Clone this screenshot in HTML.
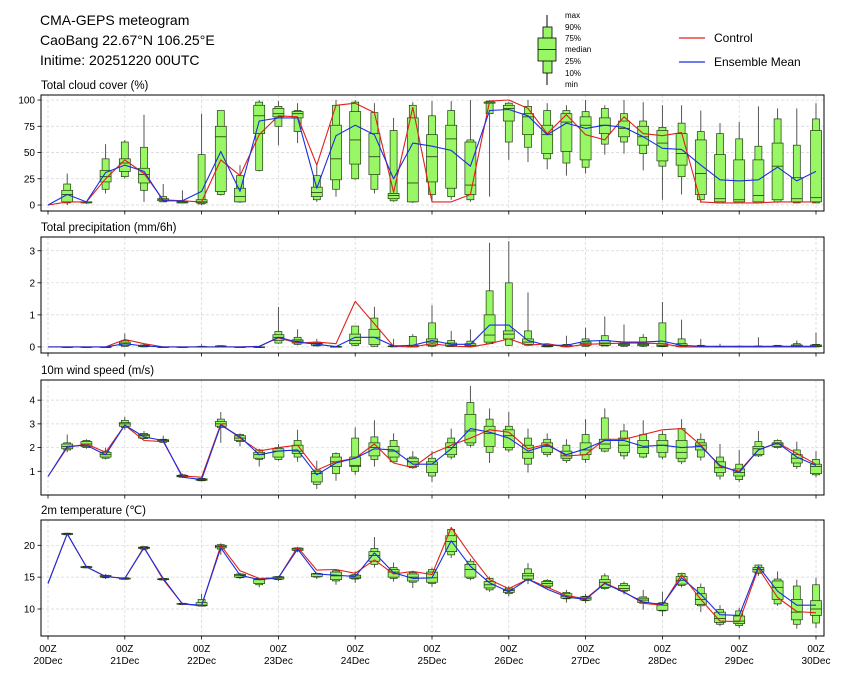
<!DOCTYPE html>
<html><head><meta charset="utf-8">
<style>
html,body{margin:0;padding:0;background:#fff;}
svg{display:block;font-family:"Liberation Sans","DejaVu Sans",sans-serif;}
</style></head>
<body>
<svg id="chart" width="842" height="680" viewBox="0 0 842 680">
  <g font-size="14" fill="#000">
    <text x="40" y="25">CMA-GEPS meteogram</text>
    <text x="40" y="45">CaoBang 22.67°N 106.25°E</text>
    <text x="40" y="65">Initime: 20251220 00UTC</text>
  </g>
  <g>
    <line x1="547" y1="15" x2="547" y2="85" stroke="#000" stroke-width="1"/>
    <rect x="543" y="27" width="9" height="46" fill="#99f766" stroke="#000" stroke-width="0.8"/>
    <rect x="538" y="38" width="18" height="23" fill="#99f766" stroke="#000" stroke-width="0.8"/>
    <line x1="538" y1="49.5" x2="556" y2="49.5" stroke="#000" stroke-width="0.8"/>
    <g font-size="8" fill="#000">
      <text x="565" y="18">max</text><text x="565" y="30">90%</text><text x="565" y="41">75%</text>
      <text x="565" y="52">median</text><text x="565" y="64">25%</text><text x="565" y="76">10%</text><text x="565" y="87">min</text>
    </g>
  </g>
  <g font-size="12">
    <g>
      <line x1="679" y1="38" x2="705" y2="38" stroke="#e0201c" stroke-width="1.2"/>
      <text x="714" y="42">Control</text>
    </g>
    <g>
      <line x1="679" y1="62" x2="705" y2="62" stroke="#1a2fe0" stroke-width="1.2"/>
      <text x="714" y="66">Ensemble Mean</text>
    </g>
  </g>
  <g id="panels"></g>
</svg>
<script>
// ---------- data ----------
const dayLabels = ["20Dec","21Dec","22Dec","23Dec","24Dec","25Dec","26Dec","27Dec","28Dec","29Dec","30Dec"];

const cloudMax=[30,3,58,62,86,20,14,87,90,38,100,99,97,38,100,100,97,83,98,99,99,100,100,98,100,97,95,100,95,100,98,95,95,90,78,79,94,92,92,97];
const cloudP90=[20,3,44,60,55,8,4,48,90,28,98,94,90,28,95,98,88,71,95,85,90,62,99,97,94,90,90,89,92,87,80,74,78,70,68,63,56,82,57,82];
const cloudQ75=[14,3,33,44,35,6,3,5,75,16,95,92,89,17,76,89,68,11,83,67,76,60,98,95,87,76,87,84,83,80,75,71,68,62,48,43,43,59,26,71];
const cloudMed=[10,3,27,40,29,5,3,3,65,8,85,87,87,12,44,62,46,9,21,46,63,19,98,92,84,67,79,76,76,73,65,59,49,30,6,5,9,37,6,7];
const cloudQ25=[3,2,22,32,21,4,2,2,13,3,68,84,83,8,24,39,29,6,3,22,16,10,97,80,67,49,51,43,68,65,57,42,38,10,3,3,3,5,3,3];
const cloudP10=[2,2,15,27,14,3,2,1,10,3,33,75,70,5,15,25,15,4,3,10,8,5,87,60,55,44,40,36,58,60,49,37,27,5,2,2,2,3,2,2];
const cloudMin=[0,1,11,25,3,3,2,0,9,2,32,57,59,3,8,24,11,3,2,3,5,3,8,43,41,34,28,30,48,49,33,5,10,2,2,2,2,2,2,2];
const cloudCtrl=[0,3,3,25,43,30,5,4,3,43,28,67,85,84,38,95,97,88,12,93,3,3,10,99,100,92,68,86,67,62,84,68,66,69,3,2,2,2,3,3,3];
const cloudMean=[0,10,3,31,38,32,4,4,13,51,13,80,83,83,16,66,76,67,25,59,56,52,37,90,91,85,67,78,73,76,74,65,54,53,38,24,23,24,36,23,32];

const precMax=[0,0,0,0.42,0.1,0,0,0.08,0.05,0,0,1.25,0.55,0.25,0.03,0.65,1.25,0.25,0.4,1.3,0.5,0.55,3.25,3.3,1.7,0.1,0.35,0.6,0.95,0.7,0.4,1.4,0.85,0.25,0.1,0.05,0.3,0.05,0.2,0.45];
const precP90=[0,0,0,0.2,0.06,0,0,0.02,0.04,0,0,0.48,0.3,0.15,0.02,0.65,0.9,0.04,0.33,0.75,0.2,0.18,1.75,2.0,0.5,0.06,0.08,0.25,0.35,0.15,0.3,0.75,0.25,0.05,0.02,0.02,0.03,0.05,0.1,0.08];
const precQ75=[0,0,0,0.15,0.05,0,0,0.01,0.03,0,0,0.38,0.22,0.12,0.01,0.4,0.55,0.03,0.05,0.25,0.12,0.1,1.0,0.5,0.25,0.04,0.05,0.15,0.2,0.1,0.1,0.1,0.1,0.03,0.01,0.01,0.01,0.03,0.06,0.06];
const precMed=[0,0,0,0.1,0.03,0,0,0,0.02,0,0,0.3,0.18,0.1,0.01,0.2,0.3,0.02,0.02,0.15,0.05,0.05,0.37,0.4,0.15,0.02,0.02,0.1,0.12,0.08,0.08,0.05,0.03,0.01,0,0,0,0.01,0.03,0.03];
const precQ25=[0,0,0,0.05,0.01,0,0,0,0.01,0,0,0.2,0.12,0.05,0,0.1,0.08,0.01,0,0.05,0.02,0.02,0.15,0.25,0.08,0.01,0.01,0.05,0.05,0.04,0.04,0.02,0.01,0,0,0,0,0,0.01,0.01];
const precP10=[0,0,0,0.02,0,0,0,0,0,0,0,0.12,0.08,0.03,0,0.05,0.02,0,0,0.02,0.01,0.01,0.1,0.05,0.05,0,0,0.02,0.03,0.02,0.02,0.01,0,0,0,0,0,0,0,0];
const precMin=[0,0,0,0,0,0,0,0,0,0,0,0.1,0.05,0.02,0,0.02,0,0,0,0,0,0,0.1,0.03,0.05,0,0,0,0.03,0,0,0,0,0,0,0,0,0,0,0];
const precCtrl=[0,0,0,0,0.23,0.1,0,0,0,0,0,0.02,0.28,0.12,0.15,0.1,1.42,0.72,0.02,0,0.1,0.03,0,0.1,0.25,0.05,0.1,0,0.08,0.1,0.12,0.12,0.1,0,0,0,0,0,0,0,0];
const precMean=[0,0,0,0,0.1,0.03,0,0,0,0,0,0.01,0.3,0.15,0.08,0.01,0.3,0.3,0.03,0.05,0.2,0.08,0.08,0.68,0.68,0.2,0.05,0.05,0.18,0.2,0.15,0.15,0.18,0.05,0.02,0.02,0.02,0.02,0.02,0.02,0.02];

const windMax=[2.55,2.35,2.0,3.3,2.7,2.5,0.9,0.75,3.5,2.6,1.95,2.15,2.75,1.45,1.8,2.85,3.15,2.6,1.85,1.85,2.8,4.6,3.65,3.5,2.8,2.6,2.35,3.2,3.65,3.0,3.15,2.7,3.2,2.6,2.15,1.9,2.7,2.35,2.25,1.85];
const windP90=[2.2,2.3,1.85,3.15,2.6,2.35,0.85,0.7,3.2,2.55,1.9,2.0,2.3,1.05,1.75,2.4,2.45,2.3,1.6,1.55,2.4,3.9,3.2,2.9,2.4,2.35,2.1,2.55,3.25,2.7,2.55,2.55,2.8,2.35,1.6,1.3,2.25,2.3,1.9,1.5];
const windQ75=[2.15,2.25,1.8,3.05,2.55,2.33,0.83,0.68,3.1,2.5,1.8,1.95,2.1,1.0,1.6,1.6,2.2,2.05,1.55,1.4,2.2,3.4,2.9,2.75,2.1,2.2,1.85,2.2,2.35,2.4,2.3,2.3,2.3,2.2,1.4,1.1,2.05,2.2,1.7,1.3];
const windMed=[2.05,2.15,1.7,3.0,2.5,2.3,0.8,0.65,3.0,2.4,1.7,1.85,1.85,0.9,1.4,1.25,2.0,1.85,1.4,1.3,2.0,2.7,2.6,2.5,1.8,2.05,1.65,1.9,2.15,2.1,2.0,2.1,1.8,2.1,1.15,0.95,1.95,2.15,1.55,1.2];
const windQ25=[1.95,2.05,1.6,2.9,2.4,2.25,0.77,0.62,2.9,2.3,1.55,1.6,1.75,0.55,1.2,1.2,1.65,1.6,1.2,0.95,1.7,2.2,2.05,2.0,1.55,1.8,1.55,1.7,1.95,1.8,1.75,1.8,1.55,1.9,0.95,0.8,1.7,2.05,1.35,0.9];
const windP10=[1.9,2.0,1.55,2.85,2.38,2.22,0.75,0.6,2.85,2.25,1.5,1.5,1.6,0.45,0.9,1.0,1.5,1.4,1.15,0.8,1.6,2.1,1.8,1.9,1.3,1.7,1.45,1.5,1.85,1.65,1.6,1.6,1.4,1.6,0.8,0.65,1.65,2.0,1.2,0.85];
const windMin=[1.8,1.95,1.5,2.75,2.35,2.2,0.72,0.58,2.2,2.05,1.2,1.45,1.4,0.25,0.6,0.85,1.2,1.4,1.1,0.55,1.5,2.0,1.35,1.8,0.95,1.6,1.35,1.35,1.8,1.5,1.55,1.5,1.3,1.45,0.65,0.55,1.6,1.95,1.1,0.75];
const windCtrl=[0.78,2.0,2.15,1.8,2.95,2.3,2.25,0.8,0.75,3.0,2.4,1.85,2.0,2.1,1.05,1.4,1.55,2.15,1.35,1.15,1.75,2.1,2.4,2.75,2.65,1.95,2.15,1.65,1.7,2.35,2.35,2.55,2.75,2.8,2.1,1.2,1.0,1.9,2.2,1.75,1.3];
const windMean=[0.78,2.05,2.1,1.7,2.95,2.45,2.3,0.75,0.65,2.95,2.45,1.7,1.85,1.9,0.85,1.35,1.55,1.95,1.9,1.3,1.3,1.95,2.8,2.65,2.4,1.85,2.1,1.7,1.95,2.3,2.3,2.05,2.1,2.0,2.05,1.25,0.95,1.9,2.2,1.6,1.25];

const tempMax=[22.0,16.8,15.5,15.0,19.9,14.9,11.0,12.4,20.3,15.7,14.9,15.2,19.7,15.7,16.2,15.9,21.3,17.3,16.0,16.5,22.8,17.9,15.1,13.6,17.2,14.7,13.0,12.4,15.6,14.3,13.0,12.7,15.7,14.0,10.6,10.2,17.0,15.9,14.6,14.9];
const tempP90=[21.9,16.7,15.3,14.9,19.8,14.8,10.9,11.5,20.1,15.5,14.8,15.1,19.6,15.6,16.0,15.4,19.5,16.5,15.7,16.2,22.5,17.5,14.8,13.3,16.3,14.5,12.6,12.0,15.2,14.0,11.9,11.0,15.6,13.4,9.9,9.7,16.9,14.7,13.6,13.8];
const tempQ75=[21.85,16.65,15.25,14.85,19.7,14.75,10.85,11.0,20.0,15.45,14.75,15.05,19.55,15.55,15.8,15.3,19.0,16.2,15.5,15.8,21.5,17.0,14.3,13.1,15.6,14.3,12.4,11.9,14.6,13.7,11.7,10.9,15.1,12.4,9.5,8.9,16.5,14.4,11.5,11.3];
const tempMed=[21.8,16.6,15.1,14.8,19.6,14.7,10.8,10.6,19.8,15.3,14.6,14.9,19.4,15.5,15.2,15.0,18.4,15.8,15.0,14.9,20.6,16.2,13.8,12.9,15.2,14.0,12.0,11.7,14.2,13.2,11.4,10.6,14.5,11.5,8.5,8.1,16.2,13.4,9.5,10.0];
const tempQ25=[21.7,16.5,15.0,14.7,19.5,14.6,10.75,10.5,19.6,15.0,14.0,14.7,19.2,15.1,14.6,14.8,17.5,15.0,14.4,14.2,19.0,15.0,13.3,12.6,14.7,13.6,11.7,11.4,13.4,12.9,11.0,9.8,13.9,10.7,7.9,7.7,15.8,11.5,8.3,9.0];
const tempP10=[21.65,16.45,14.9,14.65,19.4,14.55,10.7,10.45,19.4,14.9,13.8,14.6,19.1,15.0,14.4,14.7,17.0,14.8,14.2,14.0,18.5,14.8,13.0,12.4,14.5,13.4,11.6,11.3,13.2,12.8,10.9,9.7,13.7,10.5,7.6,7.4,15.6,10.8,7.6,7.8];
const tempMin=[21.6,16.4,14.7,14.6,19.2,14.5,10.6,10.4,18.5,14.7,13.4,14.4,18.9,14.7,13.8,14.1,16.5,14.3,13.3,13.5,18.0,14.5,12.7,12.0,13.9,13.2,11.0,10.9,13.0,12.3,9.9,8.9,13.4,9.5,7.3,7.0,15.2,10.5,6.9,7.0];
const tempCtrl=[14,21.8,16.6,15.1,14.8,19.7,14.6,10.8,10.5,20.0,16.0,14.8,14.9,19.7,16.1,16.2,15.6,17.7,15.5,15.9,15.4,22.8,18.5,14.6,13.2,14.7,13.4,12.1,11.6,14.1,12.7,10.9,10.6,15.4,11.5,8.1,8.0,16.4,11.8,9.6,9.4];
const tempMean=[14,21.8,16.6,15.1,14.8,19.6,14.8,10.8,10.6,19.6,15.3,14.6,14.9,19.4,15.5,15.3,15.1,18.8,15.7,14.8,14.9,20.7,16.7,14.1,12.7,14.7,13.1,11.9,11.5,14.0,12.6,11.1,10.7,14.9,12.3,9.1,9.0,16.7,12.8,10.6,10.6];

const cloudTicks=[0,25,50,75,100];
const precTicks=[0,1,2,3];
const windTicks=[1,2,3,4];
const tempTicks=[10,15,20];

// ---------- drawing ----------
const NS="http://www.w3.org/2000/svg";
const root=document.getElementById("panels");
const X0=41, X1=824, T0=48, PX_PER_STEP=19.2;
function xs(i){return T0+i*PX_PER_STEP;}
function el(tag,attrs,parent){const e=document.createElementNS(NS,tag);for(const k in attrs)e.setAttribute(k,attrs[k]);parent.appendChild(e);return e;}

const panels=[
 {name:"cloud-cover",title:"Total cloud cover (%)",top:95,bot:211,ymin:-5.7,ymax:104.8,ticks:cloudTicks,
  mx:cloudMax,p90:cloudP90,q75:cloudQ75,md:cloudMed,q25:cloudQ25,p10:cloudP10,mn:cloudMin,ctrl:cloudCtrl,mean:cloudMean},
 {name:"precipitation",title:"Total precipitation (mm/6h)",top:237,bot:353,ymin:-0.19,ymax:3.43,ticks:precTicks,
  mx:precMax,p90:precP90,q75:precQ75,md:precMed,q25:precQ25,p10:precP10,mn:precMin,ctrl:precCtrl,mean:precMean},
 {name:"wind-speed",title:"10m wind speed (m/s)",top:380,bot:495,ymin:0.0,ymax:4.85,ticks:windTicks,
  mx:windMax,p90:windP90,q75:windQ75,md:windMed,q25:windQ25,p10:windP10,mn:windMin,ctrl:windCtrl,mean:windMean},
 {name:"temperature",title:"2m temperature (\u2103)",top:520,bot:636,ymin:5.76,ymax:23.97,ticks:tempTicks,
  mx:tempMax,p90:tempP90,q75:tempQ75,md:tempMed,q25:tempQ25,p10:tempP10,mn:tempMin,ctrl:tempCtrl,mean:tempMean}
];

panels.forEach((p,pi)=>{
  const ys=v=>p.bot-(v-p.ymin)/(p.ymax-p.ymin)*(p.bot-p.top);
  const g=el("g",{},root);
  
  
  const t=el("text",{x:41,y:p.top-6,"font-size":"11.5",fill:"#000"},g);
  t.textContent=p.title;
  
  
  const clipId="clip"+pi;
  const cp=el("clipPath",{id:clipId},g);
  el("rect",{x:X0,y:p.top,width:X1-X0,height:p.bot-p.top},cp);
  // grid
  const grid=el("g",{stroke:"#d4d4d4","stroke-width":"0.7","stroke-dasharray":"3,2"},g);
  
  
  dayLabels.forEach((d,k)=>{const x=xs(k*4);el("line",{x1:x,y1:p.top,x2:x,y2:p.bot},grid);});
  p.ticks.forEach(v=>{const y=ys(v);el("line",{x1:X0,y1:y,x2:X1,y2:y},grid);});
  // y axis ticks
  const ya=el("g",{"font-size":"10",fill:"#000"},g);
  
  
  p.ticks.forEach(v=>{const y=ys(v);
    el("line",{x1:X0-3.5,y1:y,x2:X0,y2:y,stroke:"#000","stroke-width":"0.8"},ya);
    const tt=el("text",{x:X0-6,y:y+3.5,"text-anchor":"end"},ya);tt.textContent=String(v);});
  // x ticks
  const xa=el("g",{},g);
  
  
  dayLabels.forEach((d,k)=>{const x=xs(k*4);
    el("line",{x1:x,y1:p.bot,x2:x,y2:p.bot+3.5,stroke:"#000","stroke-width":"0.8"},xa);
    if(pi===3){
      const a=el("text",{x:x,y:p.bot+16,"font-size":"10","text-anchor":"middle"},xa);a.textContent="00Z";
      const b=el("text",{x:x,y:p.bot+28,"font-size":"10","text-anchor":"middle"},xa);b.textContent=d;
    }});
  const plot=el("g",{"clip-path":"url(#"+clipId+")"},g);
  // boxes
  const bx=el("g",{},plot);
  
  
  p.md.forEach((m,j)=>{
    const i=j+1, x=xs(i);
    const b=el("g",{},bx);
    
    
    el("line",{x1:x,y1:ys(p.mn[j]),x2:x,y2:ys(p.mx[j]),stroke:"#444","stroke-width":"0.9"},b);
    const y90=ys(p.p90[j]),y10=ys(p.p10[j]);
    el("rect",{x:x-3.5,y:y90,width:7,height:Math.max(0.6,y10-y90),fill:"#99f766",stroke:"#1f3a10","stroke-width":"0.7"},b);
    const y75=ys(p.q75[j]),y25=ys(p.q25[j]);
    el("rect",{x:x-5.5,y:y75,width:11,height:Math.max(0.6,y25-y75),fill:"#99f766",stroke:"#1f3a10","stroke-width":"0.7"},b);
    const ym=ys(m);
    el("line",{x1:x-5.5,y1:ym,x2:x+5.5,y2:ym,stroke:"#1f3a10","stroke-width":"0.8"},b);
  });
  // lines
  const mk=(arr,color,nm)=>{
    const pts=arr.map((v,i)=>xs(i).toFixed(1)+","+ys(v).toFixed(1)).join(" ");
    const l=el("polyline",{points:pts,fill:"none",stroke:color,"stroke-width":"1.1","stroke-linejoin":"round"},plot);
    
    
  };
  mk(p.ctrl,"#e0201c",p.name+"-control-line");
  mk(p.mean,"#1a2fe0",p.name+"-ensemble-mean-line");
  // frame
  const fr=el("rect",{x:X0,y:p.top,width:X1-X0,height:p.bot-p.top,fill:"none",stroke:"#000","stroke-width":"1"},g);
  
  
});
</script>
</body></html>
